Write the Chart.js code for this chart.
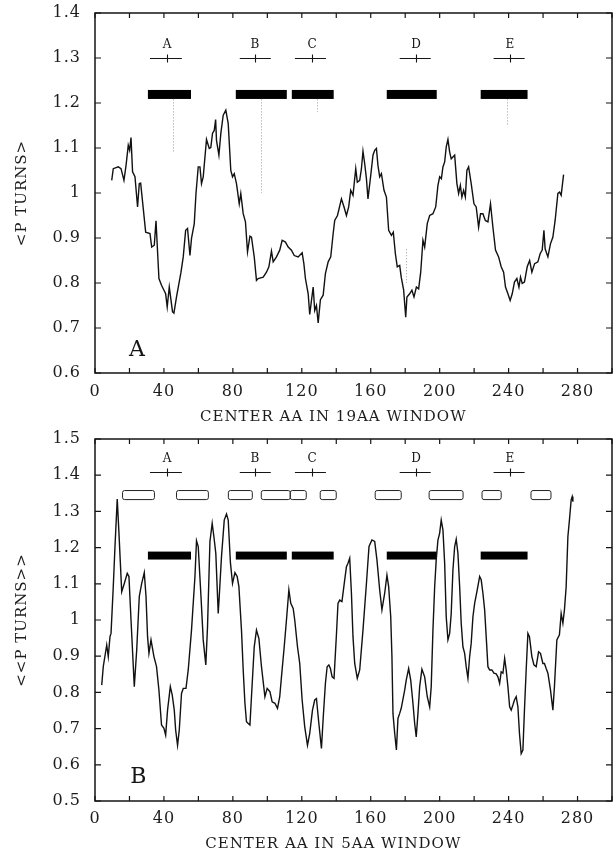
<!DOCTYPE html>
<html>
<head>
<meta charset="utf-8">
<script src="https://cdn.jsdelivr.net/npm/chart.js@4.4.0/dist/chart.umd.min.js"></script>
<style>
  html, body { margin: 0; padding: 0; background: #fff; }
  .panel { position: absolute; left: 0; width: 614px; height: 427px; }
</style>
</head>
<body>
<div class="panel" style="top:0"><canvas id="turns19"></canvas></div>
<div class="panel" style="top:427px"><canvas id="turns5"></canvas></div>
<script>
// --- profile, 19 residue window ---
const win19Pos = [
  9.7, 10.6, 13.5, 15.1, 16.8, 18, 19.3, 20.1, 20.9, 21.8,
  23.2, 24.7, 25.7, 26.5, 29.4, 31.9, 32.9, 34.4, 35.4, 37.1,
  38.6, 40, 41, 41.9, 43.1, 45, 45.8, 47.3, 49.9, 51.2,
  52.6, 53.7, 55.1, 56, 57.6, 58.6, 59.9, 60.9, 61.8, 62.8,
  64.7, 66.3, 67.2, 68.2, 69.2, 70, 70.5, 71.9, 73, 74.4,
  75.9, 77.3, 78.8, 79.8, 80.8, 82.1, 83.7, 84.6, 86, 87.3,
  88.5, 89.9, 90.8, 92.4, 93.7, 94.7, 97.6, 99.5, 100.9, 102.4,
  103.4, 105.3, 107.2, 108.6, 110.5, 112.1, 114, 115.6, 117.9, 120.2,
  121.2, 122.1, 123.7, 124.6, 125.6, 126.6, 127.5, 128.5, 129.5, 130.8,
  132.4, 133.7, 135.3, 136.8, 138.2, 139.1, 140.7, 143, 144.5, 145.9,
  147.2, 148.4, 149.7, 151.3, 152.2, 153.6, 154.6, 155.5, 156.5, 157.5,
  158.4, 160, 161.3, 162.3, 163.3, 164.2, 165.2, 166.2, 167.7, 169.1,
  170.4, 172, 173.1, 174.3, 175.4, 176.8, 177.7, 179.1, 180.3, 181,
  182.6, 183.9, 185.1, 186.5, 187.8, 189, 190.3, 191.3, 192.8, 194.2,
  196.1, 197.7, 199, 200, 201, 201.9, 202.9, 203.8, 204.8, 205.8,
  206.7, 207.7, 208.7, 210, 211, 212, 212.9, 213.9, 214.9, 215.8,
  216.8, 218.3, 219.9, 221.2, 222.6, 223.7, 225.1, 226.5, 228, 229.5,
  230.9, 232.4, 234.2, 235.7, 237.1, 238.2, 239.6, 240.9, 242.1, 243.4,
  244.8, 246, 246.9, 247.9, 249.2, 250.8, 252.2, 253.5, 255.1, 257,
  258.3, 259.5, 260.5, 261.2, 262.8, 264.3, 265.7, 267, 268.6, 269.6,
  270.5, 271.9
];
const win19Val = [
  1.028, 1.054, 1.058, 1.054, 1.028, 1.061, 1.106, 1.095, 1.123, 1.047,
  1.036, 0.969, 1.021, 1.022, 0.913, 0.910, 0.880, 0.884, 0.938, 0.810,
  0.795, 0.784, 0.776, 0.747, 0.791, 0.736, 0.733, 0.769, 0.824, 0.858,
  0.917, 0.921, 0.861, 0.899, 0.932, 0.999, 1.058, 1.058, 1.021, 1.036,
  1.119, 1.099, 1.101, 1.133, 1.139, 1.163, 1.117, 1.084, 1.132, 1.173,
  1.184, 1.154, 1.050, 1.036, 1.043, 1.021, 0.976, 0.999, 0.954, 0.936,
  0.869, 0.904, 0.902, 0.858, 0.806, 0.810, 0.813, 0.824, 0.836, 0.871,
  0.847, 0.858, 0.873, 0.895, 0.891, 0.880, 0.873, 0.861, 0.858, 0.867,
  0.843, 0.810, 0.776, 0.730, 0.761, 0.791, 0.739, 0.750, 0.711, 0.763,
  0.773, 0.821, 0.847, 0.858, 0.910, 0.939, 0.950, 0.987, 0.969, 0.950,
  0.969, 1.006, 0.995, 1.054, 1.024, 1.028, 1.054, 1.093, 1.065, 1.032,
  0.987, 1.039, 1.084, 1.095, 1.099, 1.061, 1.036, 1.043, 1.006, 0.991,
  0.917, 0.906, 0.913, 0.865, 0.836, 0.839, 0.813, 0.784, 0.724, 0.769,
  0.776, 0.784, 0.769, 0.791, 0.787, 0.824, 0.895, 0.880, 0.932, 0.950,
  0.954, 0.969, 1.017, 1.036, 1.032, 1.058, 1.069, 1.102, 1.119, 1.091,
  1.076, 1.080, 1.084, 1.021, 0.999, 1.017, 0.991, 1.006, 0.991, 1.050,
  1.058, 1.021, 0.976, 0.969, 0.924, 0.954, 0.954, 0.939, 0.936, 0.976,
  0.924, 0.873, 0.858, 0.836, 0.824, 0.791, 0.776, 0.761, 0.776, 0.802,
  0.810, 0.791, 0.813, 0.799, 0.802, 0.836, 0.850, 0.824, 0.843, 0.847,
  0.865, 0.873, 0.917, 0.876, 0.858, 0.887, 0.902, 0.939, 0.999, 1.002,
  0.995, 1.041
];

// --- profile, 5 residue window ---
const win5Pos = [
  3.9, 4.8, 6.8, 7.7, 8.7, 9.3, 10.6, 11.6, 12.9, 13.9,
  15.5, 17, 18.7, 19.7, 20.9, 22.8, 24.2, 25.7, 27.1, 28.6,
  29.6, 30.5, 31.3, 32.5, 34.2, 35.7, 37.1, 38.6, 40, 41,
  42.1, 43.7, 44.8, 46, 46.8, 47.9, 48.9, 50.2, 51.2, 52.8,
  54.1, 56, 58, 58.9, 59.9, 61.5, 62.8, 64.3, 65.3, 66.7,
  68, 69, 70.1, 71.5, 72.1, 73.4, 75, 76.3, 77.3, 78.6,
  79.8, 81.2, 82.5, 83.5, 85, 86, 87, 87.9, 88.9, 89.9,
  90.8, 92.4, 93.7, 95.1, 96.6, 98.6, 99.9, 101.5, 102.8, 104.4,
  105.9, 107.2, 108.2, 109.8, 111.1, 112.5, 113.6, 115, 115.9, 117.5,
  118.8, 120.2, 121.7, 123.3, 124.6, 126.2, 127.5, 128.5, 129.9, 131.4,
  132.4, 133.7, 134.7, 135.7, 136.6, 137.6, 138.7, 140.1, 141, 142,
  143.3, 144.9, 145.9, 146.8, 147.8, 148.8, 149.7, 150.7, 152.2, 153.6,
  155.5, 157.5, 159, 160.7, 162.3, 163.6, 165.2, 166.5, 168.1, 169.4,
  170.4, 171.6, 172.3, 172.9, 173.9, 174.9, 175.8, 176.8, 177.7, 179.7,
  180.6, 182, 183.2, 184.5, 185.5, 186.4, 187.4, 188.4, 189.7, 191.3,
  192.8, 194.2, 195.1, 196.1, 197.1, 198, 199, 200, 200.9, 201.9,
  202.9, 203.8, 204.8, 205.8, 206.7, 207.7, 208.7, 209.6, 210.6, 211.6,
  212.5, 213.5, 214.5, 215.4, 216.4, 217.4, 218.3, 219.3, 220.3, 221.8,
  223.2, 224.1, 225.1, 226.1, 227, 228, 229, 230.3, 231.5, 232.8,
  233.8, 234.8, 235.7, 236.7, 237.7, 238.6, 239.6, 240.6, 241.5, 242.5,
  243.4, 244.4, 245.4, 246.3, 247.3, 248.3, 249.2, 250.2, 251.2, 252.1,
  253.5, 254.7, 256, 257.4, 258.5, 259.9, 260.8, 261.8, 262.8, 264.3,
  265.7, 266.6, 268, 269.5, 270.5, 271.5, 272.4, 273.4, 274.4, 275.3,
  276.3, 276.9, 277.3
];
const win5Val = [
  0.820, 0.871, 0.931, 0.899, 0.954, 0.963, 1.092, 1.203, 1.334, 1.240,
  1.078, 1.101, 1.129, 1.120, 1.000, 0.816, 0.917, 1.065, 1.101, 1.131,
  1.065, 0.954, 0.908, 0.945, 0.899, 0.871, 0.806, 0.710, 0.701, 0.682,
  0.751, 0.816, 0.793, 0.751, 0.696, 0.654, 0.696, 0.797, 0.811, 0.811,
  0.862, 0.972, 1.120, 1.219, 1.203, 1.065, 0.945, 0.876, 0.982, 1.217,
  1.267, 1.230, 1.184, 1.018, 1.065, 1.175, 1.276, 1.293, 1.276, 1.157,
  1.101, 1.131, 1.120, 1.092, 0.972, 0.862, 0.770, 0.719, 0.714, 0.710,
  0.788, 0.926, 0.972, 0.949, 0.871, 0.788, 0.811, 0.802, 0.774, 0.770,
  0.756, 0.788, 0.843, 0.926, 1.000, 1.083, 1.046, 1.032, 1.000, 0.926,
  0.880, 0.779, 0.705, 0.654, 0.687, 0.751, 0.779, 0.783, 0.714, 0.645,
  0.728, 0.825, 0.871, 0.876, 0.866, 0.843, 0.839, 0.960, 1.046, 1.055,
  1.051, 1.111, 1.147, 1.157, 1.171, 1.074, 0.954, 0.880, 0.839, 0.862,
  0.972, 1.101, 1.203, 1.221, 1.217, 1.166, 1.083, 1.028, 1.074, 1.124,
  1.092, 1.009, 0.899, 0.742, 0.687, 0.641, 0.728, 0.742, 0.756, 0.806,
  0.834, 0.866, 0.834, 0.770, 0.714, 0.677, 0.742, 0.816, 0.864, 0.843,
  0.788, 0.760, 0.816, 0.972, 1.092, 1.166, 1.221, 1.240, 1.276, 1.249,
  1.157, 1.009, 0.945, 0.963, 1.018, 1.138, 1.203, 1.223, 1.184, 1.092,
  0.991, 0.926, 0.908, 0.871, 0.839, 0.899, 0.936, 1.009, 1.046, 1.083,
  1.120, 1.111, 1.074, 1.028, 0.954, 0.871, 0.862, 0.862, 0.853, 0.851,
  0.843, 0.825, 0.857, 0.853, 0.894, 0.862, 0.816, 0.760, 0.751, 0.765,
  0.779, 0.788, 0.760, 0.687, 0.631, 0.641, 0.751, 0.862, 0.963, 0.954,
  0.899, 0.876, 0.871, 0.912, 0.908, 0.880, 0.880, 0.866, 0.853, 0.807,
  0.751, 0.816, 0.945, 0.959, 1.018, 0.991, 1.028, 1.092, 1.230, 1.276,
  1.332, 1.341, 1.327
];

// helices: name, marker span and centre, solid segment span
const helixNames = ['A', 'B', 'C', 'D', 'E'];
const helixMid  = [41.7, 93, 126, 186, 240.6];
const helixFrom = [31.9, 84, 116, 176.8, 231.3];
const helixTo   = [50.4, 102, 134, 194.8, 249.3];
const barFrom = [30.7, 81.7, 114.2, 169.3, 223.8];
const barTo   = [55.7, 111.3, 138.5, 198.3, 251];

// open segments above the 5AA profile
const boxFrom = [15.7, 47, 77.1, 96.2, 113, 130.4, 162.3, 193.6, 224.3, 252.7];
const boxTo   = [34.2, 65.5, 91, 113, 122.3, 139.7, 177.4, 213.3, 235.4, 264.3];

// faint dotted guides under the 19AA segments
const guideX    = [45.3, 96.6, 129, 180.3, 239];
const guideTop  = [1.208, 1.208, 1.208, 0.875, 1.208];
const guideBase = [1.09, 1.0, 1.18, 0.80, 1.15];

Chart.defaults.font.family = "'DejaVu Serif', serif";
Chart.defaults.color = '#1c1c1c';

const spacing = {
  id: 'spacing',
  beforeLayout(chart) { chart.ctx.letterSpacing = '1px'; },
  beforeDraw(chart) { chart.ctx.letterSpacing = '1px'; }
};

// closed frame with inward ticks on all four sides
const frameTicks = {
  id: 'frameTicks',
  afterDraw(chart) {
    const ctx = chart.ctx, a = chart.chartArea, x = chart.scales.x, y = chart.scales.y;
    ctx.save();
    ctx.strokeStyle = '#151515';
    ctx.lineWidth = 1.5;
    ctx.strokeRect(a.left, a.top, a.right - a.left, a.bottom - a.top);
    ctx.lineWidth = 1.2;
    ctx.beginPath();
    x.ticks.forEach(t => {
      const px = x.getPixelForValue(t.value);
      ctx.moveTo(px, a.bottom); ctx.lineTo(px, a.bottom - 5);
      ctx.moveTo(px, a.top); ctx.lineTo(px, a.top + 5);
    });
    y.ticks.forEach(t => {
      const py = y.getPixelForValue(t.value);
      ctx.moveTo(a.left, py); ctx.lineTo(a.left + 6, py);
      ctx.moveTo(a.right, py); ctx.lineTo(a.right - 6, py);
    });
    ctx.stroke();
    ctx.restore();
  }
};

const helixMarks = {
  id: 'helixMarks',
  beforeDatasetsDraw(chart, args, o) {
    const { ctx, scales: { x, y } } = chart;
    ctx.save();
    ctx.fillStyle = '#000';
    barFrom.forEach((a, i) => {
      const x0 = x.getPixelForValue(a), x1 = x.getPixelForValue(barTo[i]);
      const y0 = y.getPixelForValue(o.barHi), y1 = y.getPixelForValue(o.barLo);
      ctx.fillRect(x0, y0, x1 - x0, y1 - y0);
    });

    if (o.boxes) {
      ctx.strokeStyle = '#222';
      ctx.lineWidth = 1;
      boxFrom.forEach((a, i) => {
        const x0 = x.getPixelForValue(a), x1 = x.getPixelForValue(boxTo[i]);
        const y0 = y.getPixelForValue(o.boxHi), y1 = y.getPixelForValue(o.boxLo);
        ctx.beginPath();
        ctx.roundRect(x0 + 0.5, y0 + 0.5, x1 - x0, y1 - y0, 2);
        ctx.stroke();
      });
    }

    if (o.guides) {
      ctx.strokeStyle = '#9a9a9a';
      ctx.lineWidth = 1;
      ctx.setLineDash([1, 2]);
      ctx.beginPath();
      guideX.forEach((g, i) => {
        const px = Math.round(x.getPixelForValue(g)) + 0.5;
        ctx.moveTo(px, y.getPixelForValue(guideTop[i]));
        ctx.lineTo(px, y.getPixelForValue(guideBase[i]));
      });
      ctx.stroke();
      ctx.setLineDash([]);
    }

    ctx.strokeStyle = '#151515';
    ctx.lineWidth = 1.1;
    ctx.fillStyle = '#151515';
    ctx.font = "12px 'DejaVu Serif', serif";
    ctx.textAlign = 'center';
    ctx.textBaseline = 'middle';
    const cy = Math.round(y.getPixelForValue(o.crossY)) + 0.5;
    helixMid.forEach((m, i) => {
      const cx = Math.round(x.getPixelForValue(m)) + 0.5;
      ctx.beginPath();
      ctx.moveTo(x.getPixelForValue(helixFrom[i]), cy);
      ctx.lineTo(x.getPixelForValue(helixTo[i]), cy);
      ctx.moveTo(cx, cy - 4);
      ctx.lineTo(cx, cy + 4);
      ctx.stroke();
      ctx.fillText(helixNames[i], cx, y.getPixelForValue(o.labelY));
    });

    ctx.font = "22px 'DejaVu Serif', serif";
    ctx.fillText(o.letter, x.getPixelForValue(o.letterX), y.getPixelForValue(o.letterY));
    ctx.restore();
  }
};

function profileChart(id, pos, val, yMin, yMax, yTitle, xTitle, topPad, tickPad, marks) {
  return new Chart(document.getElementById(id), {
    type: 'line',
    data: {
      datasets: [{
        data: pos.map((p, i) => ({ x: p, y: val[i] })),
        borderColor: '#111',
        borderWidth: 1.4,
        pointRadius: 0,
        tension: 0,
        fill: false
      }]
    },
    options: {
      responsive: true,
      maintainAspectRatio: false,
      animation: false,
      layout: { padding: { top: topPad, right: 2, left: 0, bottom: 0 } },
      plugins: { legend: { display: false }, tooltip: { enabled: false }, helixMarks: marks },
      scales: {
        x: {
          type: 'linear', min: 0, max: 300,
          grid: { display: false, drawTicks: false },
          border: { display: false },
          ticks: {
            stepSize: 20, autoSkip: false, maxRotation: 0, padding: tickPad,
            font: { size: 16 },
            callback: v => (v % 40 === 0 && v < 300 ? String(v) : '')
          },
          // trailing blanks nudge the centred title to the left of the axis middle
          title: { display: true, text: xTitle + '       ', font: { size: 15 }, padding: { top: 0, bottom: 1 } },
          afterFit: s => {
            s.height = 427 - topPad - (yMax === 1.4 ? 360 : 362);
            s.paddingLeft = 0; s.paddingRight = 0;
          }
        },
        y: {
          min: yMin, max: yMax,
          grid: { display: false, drawTicks: false },
          border: { display: false },
          ticks: {
            stepSize: 0.1, padding: 14,
            font: { size: 16 },
            callback: v => String(Math.round(v * 10) / 10)
          },
          title: { display: true, text: yTitle, font: { size: 15 }, padding: { top: 13, bottom: 0 } },
          // fixed gutter; tick padding must not push the plot down
          afterFit: s => { s.width = 95; s.paddingTop = 0; s.paddingBottom = 0; }
        }
      }
    },
    plugins: [spacing, helixMarks, frameTicks]
  });
}

profileChart('turns19', win19Pos, win19Val, 0.6, 1.4, '<P TURNS>', 'CENTER AA IN 19AA WINDOW', 13, 9, {
  crossY: 1.3, labelY: 1.33, barLo: 1.209, barHi: 1.229,
  boxes: false, guides: true, letter: 'A', letterX: 24.6, letterY: 0.65
});

profileChart('turns5', win5Pos, win5Val, 0.5, 1.5, '<<P TURNS>>', 'CENTER AA IN 5AA WINDOW', 12, 8, {
  crossY: 1.409, labelY: 1.445, barLo: 1.167, barHi: 1.189, boxLo: 1.334, boxHi: 1.359,
  boxes: true, guides: false, letter: 'B', letterX: 25.5, letterY: 0.566
});
</script>
</body>
</html>
